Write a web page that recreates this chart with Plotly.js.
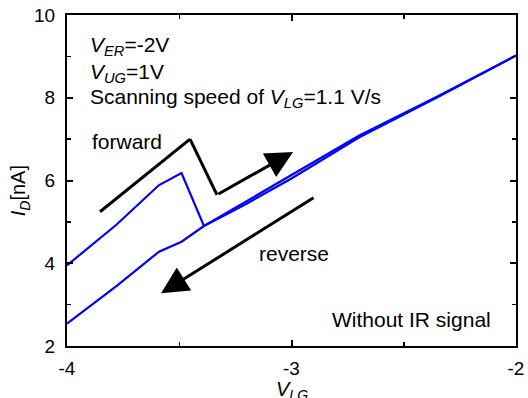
<!DOCTYPE html>
<html>
<head>
<meta charset="utf-8">
<script src="https://cdn.plot.ly/plotly-3.0.1.min.js"></script>
<style>html,body{margin:0;padding:0;background:#fff;}#chart{width:528px;height:398px;}</style>
</head>
<body>
<div id="chart"></div>
<script>
// Forward sweep of V_LG
const forwardX = [-4.0, -3.78, -3.59, -3.49, -3.39, -3.2, -3.0, -2.7, -2.35, -2.0];
const forwardY = [3.95, 4.93, 5.89, 6.18, 4.90, 5.50, 6.12, 7.08, 8.03, 9.02];
// Reverse sweep of V_LG
const reverseX = [-2.0, -2.35, -2.7, -3.0, -3.2, -3.39, -3.49, -3.59, -3.78, -4.0];
const reverseY = [9.02, 8.01, 7.04, 6.05, 5.44, 4.90, 4.52, 4.28, 3.45, 2.54];
// Axis ticks
const xTicks = [-4, -3, -2];
const yTicks = [2, 4, 6, 8, 10];

const FONT = 'Liberation Sans, Arial, sans-serif';
const BLUE = '#0000ff';

const traces = [
  {x: forwardX, y: forwardY, mode: 'lines', line: {color: BLUE, width: 2.2}, hoverinfo: 'skip'},
  {x: reverseX, y: reverseY, mode: 'lines', line: {color: BLUE, width: 2.2}, hoverinfo: 'skip'}
];

const axisCommon = {
  showline: true, linecolor: '#000', linewidth: 2, mirror: 'ticks',
  ticks: 'inside', ticklen: 6, tickwidth: 2, tickcolor: '#000',
  showgrid: false, zeroline: false,
  tickfont: {family: FONT, size: 19, color: '#000'},
  minor: {ticks: 'inside', ticklen: 4, tickwidth: 1.5, tickcolor: '#000', dtick: 1}
};

const textAnn = (x, y, text) => ({x, y, xref: 'x', yref: 'y', text, showarrow: false,
  xanchor: 'left', yanchor: 'middle', font: {family: FONT, size: 21, color: '#000'}});

const layout = {
  width: 528, height: 398,
  margin: {l: 67, r: 12, t: 15, b: 52},
  paper_bgcolor: '#fff', plot_bgcolor: '#fff',
  showlegend: false,
  xaxis: Object.assign({}, axisCommon, {
    range: [-4, -2], tickvals: xTicks, ticktext: xTicks.map(String),
    minor: Object.assign({}, axisCommon.minor, {dtick: 0.5}),
    ticklabelstandoff: 4
  }),
  yaxis: Object.assign({}, axisCommon, {
    range: [2, 10], tickvals: yTicks, ticktext: yTicks.map(String),
    ticklabelstandoff: 6
  }),
  shapes: [
    {type: 'line', xref: 'x', yref: 'y', x0: -3.853, y0: 5.245, x1: -3.452, y1: 7.0, line: {color: '#000', width: 3}},
    {type: 'line', xref: 'x', yref: 'y', x0: -3.452, y0: 7.0, x1: -3.332, y1: 5.654, line: {color: '#000', width: 3}}
  ],
  annotations: [
    {x: 0.5, y: -0.09, xref: 'paper', yref: 'paper', xanchor: 'center', yanchor: 'top', showarrow: false,
     text: '<i>V</i><sub><i>LG</i></sub>', font: {family: FONT, size: 20, color: '#000'}},
    {x: -0.105, y: 0.47, xref: 'paper', yref: 'paper', xanchor: 'center', yanchor: 'middle', showarrow: false,
     textangle: -90, text: '<i>I</i><sub><i>D</i></sub>[nA]', font: {family: FONT, size: 20, color: '#000'}},
    textAnn(-3.906, 9.24, '<i>V</i><sub><i>ER</i></sub>=-2V'),
    textAnn(-3.906, 8.61, '<i>V</i><sub><i>UG</i></sub>=1V'),
    textAnn(-3.906, 7.99, 'Scanning speed of <i>V</i><sub><i>LG</i></sub>=1.1 V/s'),
    textAnn(-3.898, 6.95, 'forward'),
    textAnn(-3.154, 4.24, 'reverse'),
    textAnn(-2.829, 2.65, 'Without IR signal'),
    {x: -2.993, y: 6.69, ax: -3.332, ay: 5.654, xref: 'x', yref: 'y', axref: 'x', ayref: 'y',
     showarrow: true, text: '', arrowhead: 2, arrowsize: 1.8, arrowwidth: 3, arrowcolor: '#000'},
    {x: -3.581, y: 3.274, ax: -2.895, ay: 5.606, xref: 'x', yref: 'y', axref: 'x', ayref: 'y',
     showarrow: true, text: '', arrowhead: 2, arrowsize: 1.8, arrowwidth: 3, arrowcolor: '#000'}
  ]
};

Plotly.newPlot('chart', traces, layout, {staticPlot: true, displayModeBar: false});
</script>
</body>
</html>
